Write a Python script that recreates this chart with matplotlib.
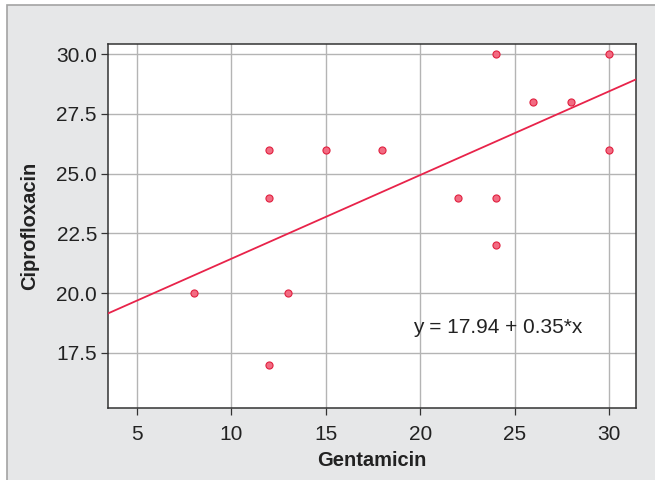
import matplotlib
matplotlib.use('Agg')
import matplotlib.pyplot as plt
from matplotlib.patches import Rectangle
import numpy as np

# Gentamicin vs Ciprofloxacin
gentamicin = [8, 12, 12, 12, 13, 15, 18, 22, 24, 24, 24, 26, 28, 30, 30]
ciprofloxacin = [20, 26, 24, 17, 20, 26, 26, 24, 30, 24, 22, 28, 28, 30, 26]

# fitted line
intercept = 17.94
slope = 0.35

x_ticks = [5, 10, 15, 20, 25, 30]
y_ticks = [17.5, 20.0, 22.5, 25.0, 27.5, 30.0]

plt.rcParams['font.family'] = ['Liberation Sans', 'DejaVu Sans']

fig = plt.figure(figsize=(6.55, 4.8), dpi=100, facecolor='white')

# grey panel behind the plot
fig.patches.append(Rectangle((7/655, -0.05), 1 - 7/655 + 0.05, 1.05 - 5/480,
                             transform=fig.transFigure, facecolor='#e6e7e8',
                             edgecolor='#a3a3a3', linewidth=1.2, zorder=-5))

ax = fig.add_axes([108/655, 1 - 408/480, (636 - 108)/655, (408 - 44)/480])
ax.set_facecolor('white')

xlim = (3.47, 31.43)
ylim = (15.2, 30.42)

xs = np.array(xlim)
ax.plot(xs, intercept + slope*xs, color='#e8234a', linewidth=1.3, zorder=3)

ax.scatter(gentamicin, ciprofloxacin, s=26, facecolor='#f26b82',
           edgecolor='#e0203f', linewidth=0.8, zorder=4)

ax.text(19.6, 18.58, 'y = 17.94 + 0.35*x', fontsize=15, va='center',
        ha='left', color='#222222')

ax.set_xlim(*xlim)
ax.set_ylim(*ylim)
ax.set_xticks(x_ticks)
ax.set_yticks(y_ticks)
ax.set_yticklabels([f'{v:.1f}' for v in y_ticks])

ax.grid(True, color='#b4b4b4', linewidth=1.0)
ax.set_axisbelow(True)
ax.tick_params(direction='out', length=5, width=0.9, colors='#333333',
               labelsize=15, labelcolor='#222222', pad=3)
ax.tick_params(axis='x', pad=7)
for s in ax.spines.values():
    s.set_color('#333333')
    s.set_linewidth(1.1)

ax.set_xlabel('Gentamicin', fontsize=14.5, fontweight='bold', color='#222222', labelpad=5)
ax.set_ylabel('Ciprofloxacin', fontsize=14.5, fontweight='bold', color='#222222', labelpad=12)

plt.savefig('out.png', dpi=100, facecolor='white')
